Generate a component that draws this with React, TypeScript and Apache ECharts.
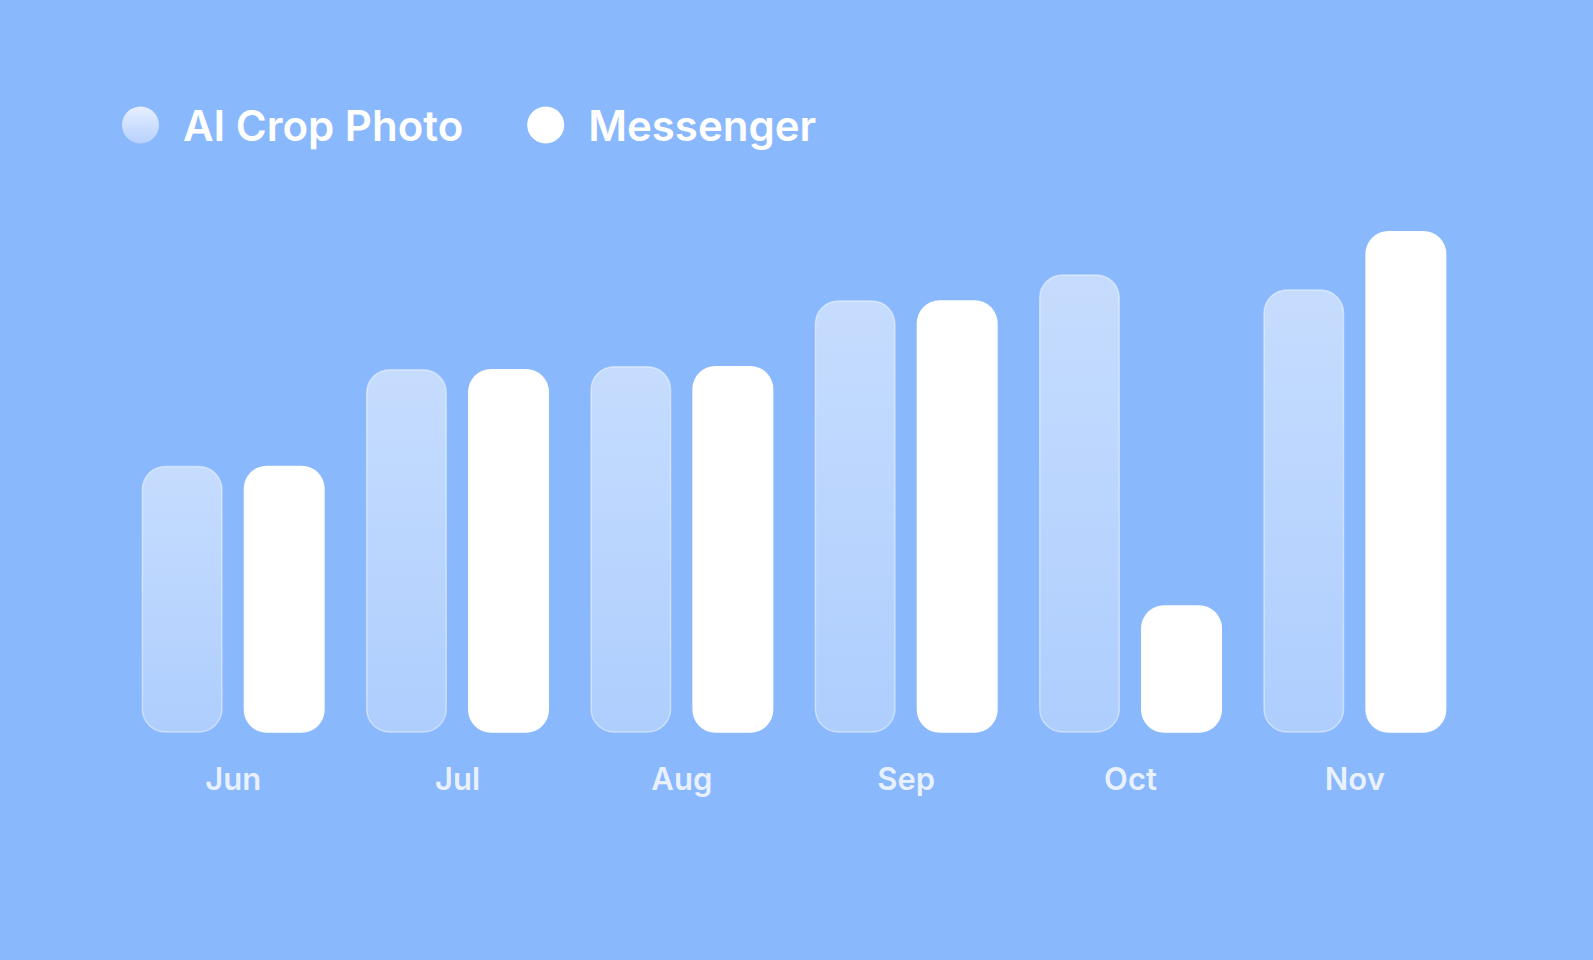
import React, { useEffect, useRef } from "react";
import * as echarts from "echarts";

const categories = ["Jun", "Jul", "Aug", "Sep", "Oct", "Nov"];
const seriesNames = ["AI Crop Photo", "Messenger"];
const aiCropPhoto = [53.2, 72.5, 73.1, 86.2, 91.4, 88.4];
const messenger = [53.2, 72.5, 73.1, 86.2, 25.4, 100];

const BG = "#8AB8FD";
const FONT = "Inter, 'Noto Sans', sans-serif";

export default function App() {
  const ref = useRef<HTMLDivElement>(null);

  useEffect(() => {
    if (!ref.current) return;
    const chart = echarts.init(ref.current, undefined, { renderer: "svg" });
    const glassFill = {
      type: "linear",
      x: 0,
      y: 0,
      x2: 0,
      y2: 1,
      colorStops: [
        { offset: 0, color: "rgba(255,255,255,0.51)" },
        { offset: 1, color: "rgba(255,255,255,0.31)" },
      ],
    };
    const legendGlass = {
      type: "linear",
      x: 0,
      y: 0,
      x2: 0,
      y2: 1,
      colorStops: [
        { offset: 0, color: "#E6EFFF" },
        { offset: 1, color: "#B8D1FF" },
      ],
    };
    chart.setOption({
      animation: false,
      backgroundColor: BG,
      legend: {
        left: 122,
        top: 104,
        padding: 0,
        itemWidth: 37,
        itemHeight: 37,
        itemGap: 64,
        icon: "circle",
        textStyle: {
          color: "#ffffff",
          fontFamily: FONT,
          fontWeight: 600,
          fontSize: 42,
          padding: [0, 0, 0, 19],
        },
        data: [
          { name: seriesNames[0], itemStyle: { color: legendGlass, borderWidth: 0 } },
          { name: seriesNames[1], itemStyle: { color: "#ffffff", borderWidth: 0 } },
        ],
      },
      grid: {
        left: 121,
        right: 126,
        top: 231,
        bottom: 227.3,
        containLabel: false,
      },
      xAxis: {
        type: "category",
        data: categories,
        axisLine: { show: false },
        axisTick: { show: false },
        splitLine: { show: false },
        axisLabel: {
          margin: 30,
          color: "rgba(255,255,255,0.82)",
          fontFamily: FONT,
          fontWeight: 600,
          fontSize: 31,
        },
      },
      yAxis: {
        type: "value",
        min: 0,
        max: 100,
        show: false,
        splitLine: { show: false },
      },
      series: [
        {
          name: seriesNames[0],
          type: "bar",
          data: aiCropPhoto,
          barWidth: 81,
          barGap: "26%",
          itemStyle: {
            color: glassFill,
            borderColor: "rgba(255,255,255,0.45)",
            borderWidth: 1.5,
            borderRadius: 23,
          },
        },
        {
          name: seriesNames[1],
          type: "bar",
          data: messenger,
          barWidth: 81,
          barGap: "26%",
          itemStyle: {
            color: "#ffffff",
            borderRadius: 23,
          },
        },
      ],
    });
    return () => chart.dispose();
  }, []);

  return (
    <div
      ref={ref}
      style={{
        position: "absolute",
        left: 0,
        top: 0,
        width: 1593,
        height: 960,
        background: BG,
      }}
    />
  );
}
